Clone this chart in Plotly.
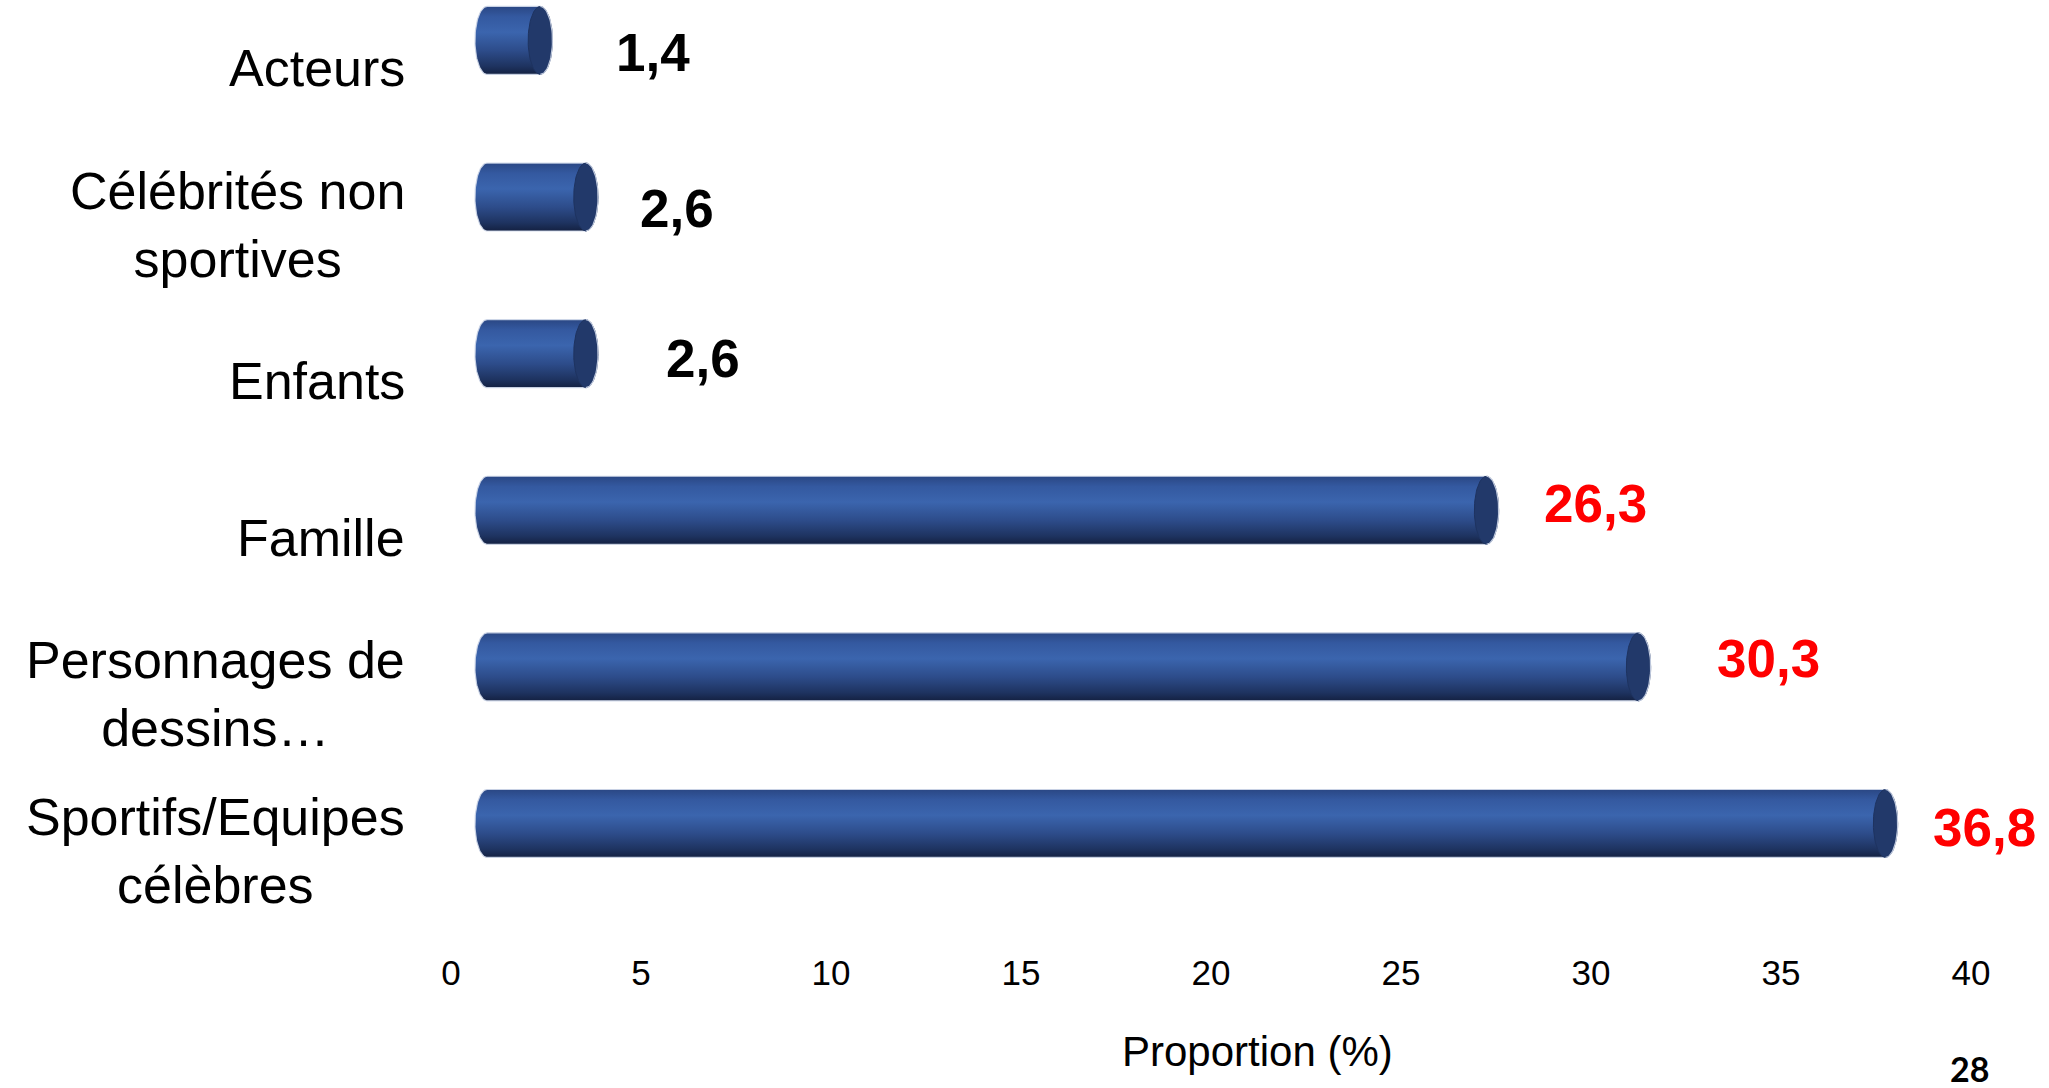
import numpy as np
import plotly.graph_objects as go

# ---- data ----
categories = [
    "Acteurs",
    "Célébrités non<br>sportives",
    "Enfants",
    "Famille",
    "Personnages de<br>dessins…",
    "Sportifs/Equipes<br>célèbres",
]
values = [1.4, 2.6, 2.6, 26.3, 30.3, 36.8]
x_ticks = [0, 5, 10, 15, 20, 25, 30, 35, 40]

# ---- layout / style constants ----
W, H = 2049, 1088
M_L, M_R, M_T, M_B = 413, 21, 0, 143
X_RANGE = [-1, 41.5]
Y_RANGE = [-0.6, 5.434]
DEPTH_X = 0.95      # 3D depth shift of the cylinders along x
DEPTH_Y = 0.176     # 3D depth shift of the cylinders along y
BAR_HALF = 0.217    # half thickness of a cylinder (y units)
CAP_RX = 0.32       # half width of the elliptic end caps (x units)
FONT = "Liberation Sans, Arial, sans-serif"
HIGHLIGHT_MIN = 20  # values at or above this are shown in red
# small pixel nudges for the value labels
label_dx = [11, -11, 15, -7, 14, -17]
label_dy = [-12, -11, -5, 7, 8, -4]

body_scale = [
    [0.00, "#142142"],
    [0.12, "#1E3360"],
    [0.35, "#2D4C8A"],
    [0.62, "#3B65AE"],
    [0.85, "#3459A0"],
    [1.00, "#2A4784"],
]
cap_color = "#22396A"
edge = dict(color="rgba(205,214,232,0.9)", width=1.2)

n = len(categories)
ypos = [n - 1 - i for i in range(n)]

fig = go.Figure()

for v, yc in zip(values, ypos):
    yb = yc + DEPTH_Y
    x0 = 0 + DEPTH_X
    x1 = v + DEPTH_X
    # cylinder body: rounded left side, straight top and bottom
    t = np.linspace(np.pi / 2, 3 * np.pi / 2, 48)
    bx = list(x0 + CAP_RX * np.cos(t)) + [x1, x1, x0]
    by = list(yb + BAR_HALF * np.sin(t)) + [yb - BAR_HALF, yb + BAR_HALF, yb + BAR_HALF]
    fig.add_trace(go.Scatter(
        x=bx, y=by, mode="lines", fill="toself",
        fillgradient=dict(type="vertical", colorscale=body_scale),
        line=edge, hoverinfo="skip", showlegend=False,
    ))
    # elliptic end cap
    tc = np.linspace(0, 2 * np.pi, 80)
    fig.add_trace(go.Scatter(
        x=x1 + CAP_RX * np.cos(tc), y=yb + BAR_HALF * np.sin(tc),
        mode="lines", fill="toself", fillcolor=cap_color,
        line=dict(color="#1E3360", width=1), hoverinfo="skip", showlegend=False,
    ))
    # light rim on the outer half of the cap
    th = np.linspace(-np.pi / 2, np.pi / 2, 40)
    fig.add_trace(go.Scatter(
        x=x1 + CAP_RX * np.cos(th), y=yb + BAR_HALF * np.sin(th),
        mode="lines", line=edge, hoverinfo="skip", showlegend=False,
    ))

annotations = []

# category labels (multi-line ones centred line by line)
for cat, yc in zip(categories, ypos):
    annotations.append(dict(
        text=cat, xref="paper", yref="y", x=-0.004, y=yc,
        xanchor="right", yanchor="middle", align="center", showarrow=False,
        font=dict(family=FONT, size=52, color="black"),
    ))

# value labels
for v, yc, dx, dy in zip(values, ypos, label_dx, label_dy):
    txt = f"{v:.1f}".replace(".", ",")
    col = "#FF0000" if v >= HIGHLIGHT_MIN else "#000000"
    annotations.append(dict(
        text=f"<b>{txt}</b>", xref="x", yref="y",
        x=v + DEPTH_X + CAP_RX + 1.33, y=yc + DEPTH_Y,
        xanchor="left", yanchor="middle", showarrow=False,
        xshift=dx, yshift=dy,
        font=dict(family=FONT, size=53, color=col),
    ))

# axis title
annotations.append(dict(
    text="Proportion (%)", xref="paper", yref="paper",
    x=0.523, y=-0.1122, xanchor="center", yanchor="middle", showarrow=False,
    font=dict(family=FONT, size=42, color="black"),
))
# page number
annotations.append(dict(
    text="<b>28</b>", xref="paper", yref="paper",
    x=0.9635, y=-0.131, xanchor="center", yanchor="middle", showarrow=False,
    font=dict(family="Lato, Carlito, sans-serif", size=34, color="black"),
))

fig.update_layout(
    width=W, height=H,
    margin=dict(l=M_L, r=M_R, t=M_T, b=M_B),
    paper_bgcolor="white", plot_bgcolor="white",
    xaxis=dict(
        range=X_RANGE, tickvals=x_ticks, ticktext=[str(t) for t in x_ticks],
        showgrid=False, zeroline=False, showline=False, ticks="",
        ticklabelstandoff=4,
        tickfont=dict(family=FONT, size=35, color="black"),
        fixedrange=True,
    ),
    yaxis=dict(
        range=Y_RANGE, showticklabels=False, showgrid=False,
        zeroline=False, showline=False, ticks="", fixedrange=True,
    ),
    annotations=annotations,
)

fig.write_html("out.html")
